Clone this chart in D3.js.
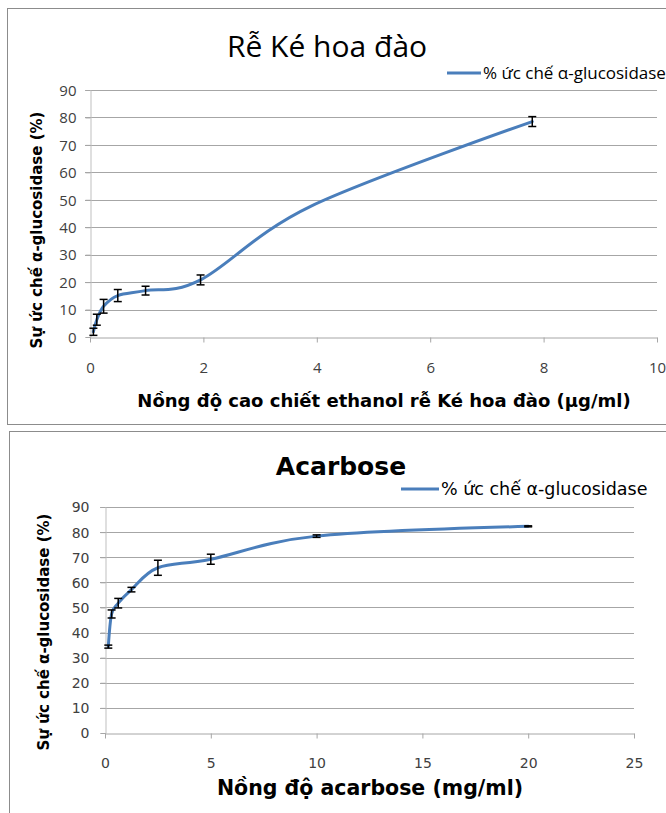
<!DOCTYPE html>
<html>
<head>
<meta charset="utf-8">
<script src="https://cdn.jsdelivr.net/npm/d3@7"></script>
<style>
  body { margin: 0; background: #fff; }
  svg { display: block; }
  .narrow { font-family: "Liberation Sans Narrow", "Arial Narrow", "Open Sans", sans-serif; }
  .wide { font-family: "DejaVu Sans", Verdana, sans-serif; }
</style>
</head>
<body>
<div id="chart"></div>
<script>
// Rễ Ké hoa đào extract
var keConc = [0.06, 0.12, 0.24, 0.49, 0.98, 1.95, 3.9, 7.8];
var keInhib = [1.9, 6.3, 11.2, 15.1, 16.9, 20.8, 47.7, 78.5];
var keErr = [1.3, 2.0, 2.5, 2.2, 1.6, 1.8, 0, 1.8];
var keXTicks = [0, 2, 4, 6, 8, 10];

// Acarbose
var acaConc = [0.156, 0.3125, 0.625, 1.25, 2.5, 5, 10, 20];
var acaInhib = [34.4, 47.4, 51.7, 57.1, 65.8, 69.2, 78.4, 82.3];
var acaErr = [0.6, 1.6, 1.9, 0.9, 3.0, 2.0, 0.5, 0.2];
var acaXTicks = [0, 5, 10, 15, 20, 25];

var yTicks = [0, 10, 20, 30, 40, 50, 60, 70, 80, 90];
var seriesName = "% ức chế α-glucosidase";
var yTitle = "Sự ức chế α-glucosidase (%)";

var svg = d3.select("#chart").append("svg")
  .attr("width", 666)
  .attr("height", 813);

// frames of the two pasted charts
svg.append("rect").attr("x", 7.5).attr("y", 8.5).attr("width", 680).attr("height", 416)
  .attr("fill", "none").attr("stroke", "#8c8c8c");
svg.append("rect").attr("x", 9.5).attr("y", 431.5).attr("width", 680).attr("height", 400)
  .attr("fill", "none").attr("stroke", "#8c8c8c");

function drawChart(opt) {
  var x = d3.scaleLinear().domain(opt.xDomain).range([opt.left, opt.right]);
  var y = d3.scaleLinear().domain([0, 90]).range([opt.bottom, opt.top]);
  var g = svg.append("g");

  // horizontal gridlines (with outward tick)
  g.append("g").selectAll("line").data(yTicks.slice(1)).join("line")
    .attr("x1", opt.left - 5).attr("x2", opt.right)
    .attr("y1", d => Math.round(y(d)) + 0.5).attr("y2", d => Math.round(y(d)) + 0.5)
    .attr("stroke", "#a6a6a6").attr("stroke-width", 1);

  // y axis
  var yAxis = g.append("g")
    .attr("class", opt.tickClass)
    .attr("transform", "translate(" + (opt.left + 0.5) + ",0)")
    .call(d3.axisLeft(y).tickValues(yTicks).tickSize(5).tickPadding(opt.yPad));
  yAxis.select(".domain").attr("stroke", "#bfbfbf");
  yAxis.selectAll(".tick line").attr("stroke", "#a6a6a6");
  yAxis.selectAll("text").attr("fill", "#404040").style("font-size", opt.tickSize + "px")
    .attr("dy", "0.35em");

  // x axis
  var xAxis = g.append("g")
    .attr("class", opt.tickClass)
    .attr("transform", "translate(0," + (Math.round(y(0)) + 0.5) + ")")
    .call(d3.axisBottom(x).tickValues(opt.xTicks).tickSize(5).tickSizeOuter(0).tickPadding(opt.xPad));
  xAxis.select(".domain").attr("stroke", "#a6a6a6");
  xAxis.selectAll(".tick line").attr("stroke", "#a6a6a6");
  xAxis.selectAll("text").attr("fill", "#404040").style("font-size", opt.tickSize + "px");

  var pts = opt.conc.map((c, i) => ({x: c, y: opt.inhib[i], e: opt.err[i]}));

  // smoothed line (Excel-like)
  var line = d3.line()
    .x(d => x(d.x)).y(d => y(d.y))
    .curve(d3.curveCardinal.tension(0));
  g.append("path").datum(pts)
    .attr("d", line)
    .attr("fill", "none")
    .attr("stroke", "#4a7ebb")
    .attr("stroke-width", 3)
    .attr("stroke-linecap", "round");

  // error bars
  var eb = g.append("g").selectAll("g").data(pts.filter(d => d.e > 0)).join("g")
    .attr("stroke", "#000").attr("stroke-width", 1.5);
  eb.append("line")
    .attr("x1", d => x(d.x)).attr("x2", d => x(d.x))
    .attr("y1", d => y(d.y - d.e)).attr("y2", d => y(d.y + d.e));
  eb.append("line")
    .attr("x1", d => x(d.x) - 4).attr("x2", d => x(d.x) + 4)
    .attr("y1", d => y(d.y - d.e)).attr("y2", d => y(d.y - d.e));
  eb.append("line")
    .attr("x1", d => x(d.x) - 4).attr("x2", d => x(d.x) + 4)
    .attr("y1", d => y(d.y + d.e)).attr("y2", d => y(d.y + d.e));

  // title
  g.append("text")
    .attr("class", opt.titleClass)
    .attr("x", opt.titleX).attr("y", opt.titleY)
    .attr("text-anchor", "middle")
    .style("font-size", opt.titleSize + "px")
    .style("font-weight", opt.titleWeight)
    .attr("fill", "#000")
    .text(opt.title);

  // legend
  g.append("line")
    .attr("x1", opt.legX).attr("x2", opt.legX + opt.legLen)
    .attr("y1", opt.legY).attr("y2", opt.legY)
    .attr("stroke", "#4a7ebb").attr("stroke-width", 3);
  g.append("text")
    .attr("class", opt.tickClass)
    .attr("x", opt.legX + opt.legLen + 2).attr("y", opt.legY)
    .attr("dy", "0.35em")
    .style("font-size", opt.legSize + "px")
    .attr("fill", "#000")
    .text(seriesName);

  // axis titles
  g.append("text")
    .attr("class", opt.axisClass)
    .attr("transform", "translate(" + opt.yTitleX + "," + opt.yTitleY + ") rotate(-90)")
    .attr("text-anchor", "middle")
    .style("font-size", opt.yTitleSize + "px")
    .style("font-weight", "bold")
    .attr("fill", "#000")
    .text(yTitle);
  g.append("text")
    .attr("class", opt.axisClass)
    .attr("x", opt.xTitleX).attr("y", opt.xTitleY)
    .attr("text-anchor", "middle")
    .style("font-size", opt.xTitleSize + "px")
    .style("font-weight", "bold")
    .attr("fill", "#000")
    .text(opt.xTitle);
}

drawChart({
  conc: keConc, inhib: keInhib, err: keErr, xTicks: keXTicks,
  xDomain: [0, 10], left: 90, right: 657, top: 90, bottom: 337,
  tickClass: "narrow", tickSize: 15, yPad: 9, xPad: 20,
  title: "Rễ Ké hoa đào", titleClass: "narrow", titleSize: 30, titleWeight: "normal",
  titleX: 327, titleY: 57,
  legX: 447, legY: 73, legLen: 34, legSize: 17,
  axisClass: "wide", yTitleX: 42, yTitleY: 230, yTitleSize: 15,
  xTitle: "Nồng độ cao chiết ethanol rễ Ké hoa đào (μg/ml)",
  xTitleX: 384, xTitleY: 407, xTitleSize: 18
});

drawChart({
  conc: acaConc, inhib: acaInhib, err: acaErr, xTicks: acaXTicks,
  xDomain: [0, 25], left: 105, right: 634, top: 507, bottom: 733,
  tickClass: "wide", tickSize: 14, yPad: 11, xPad: 20,
  title: "Acarbose", titleClass: "wide", titleSize: 25, titleWeight: "bold",
  titleX: 341, titleY: 475,
  legX: 401, legY: 489, legLen: 38, legSize: 17.5,
  axisClass: "wide", yTitleX: 49, yTitleY: 632, yTitleSize: 15,
  xTitle: "Nồng độ acarbose (mg/ml)",
  xTitleX: 370, xTitleY: 795, xTitleSize: 20.5
});
</script>
</body>
</html>
